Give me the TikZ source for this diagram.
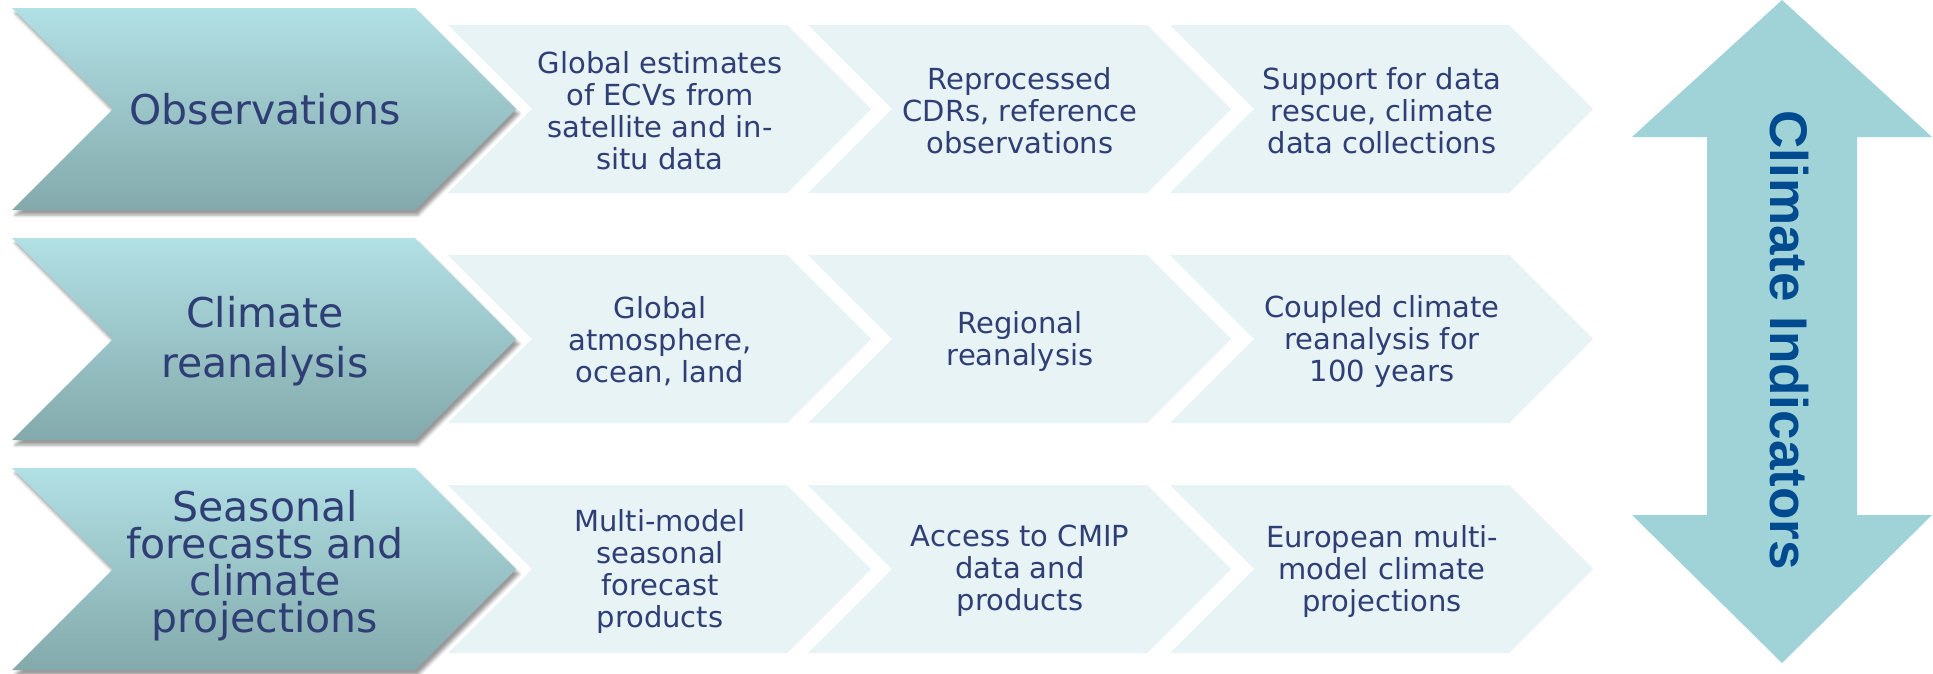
\documentclass[tikz,border=0pt]{standalone}
\usepackage{fontspec}
\setmainfont{DejaVu Sans}
\newfontfamily\arrowfont{Liberation Sans}
\usepackage{xcolor}
\usepackage{tikz}
\usetikzlibrary{shadows.blur}
\definecolor{figink}{RGB}{47,62,117}
\definecolor{figtealtop}{RGB}{177,224,229}
\definecolor{figtealbot}{RGB}{131,169,171}
\definecolor{figpale}{RGB}{231,243,244}
\definecolor{figarrow}{RGB}{160,211,216}
\definecolor{figindigo}{RGB}{0,74,143}
\tikzset{
    bigchev/.style={top color=figtealtop, bottom color=figtealbot,
        blur shadow={shadow xshift=3pt, shadow yshift=-5pt,
            shadow blur radius=3pt, shadow opacity=40}},
    smallchev/.style={fill=figpale},
    bigtext/.style={text=figink, align=center, inner sep=0pt},
    smalltext/.style={text=figink, align=center, inner sep=0pt,
        font=\fontsize{29}{32}\selectfont},
}
% chevron: style, left x, centre y, body width, half height
\newcommand{\chevron}[5]{%
    \path[#1] (#2,#3-#5) -- ++(#4,0) -- ++(#5,#5) -- ++(-#5,#5)
        -- ++(-#4,0) -- ++(#5,-#5) -- cycle;}

\begin{document}
\begin{tikzpicture}[x=1pt, y=-1pt]
            \useasboundingbox (0,0) rectangle (1933,673);

            % observations row
            \chevron{bigchev}{12}{109}{403}{101}
            \chevron{smallchev}{448}{109}{339}{84}
            \chevron{smallchev}{808}{109}{339}{84}
            \chevron{smallchev}{1170}{109}{339}{84}
            \node[bigtext, font=\fontsize{41}{50}\selectfont] (obs) at (265,109) {Observations};
            \node[smalltext] (obs1) at (660,111) {Global estimates\\of ECVs from\\satellite and in-\\situ data};
            \node[smalltext] (obs2) at (1020,111) {Reprocessed\\CDRs, reference\\observations};
            \node[smalltext] (obs3) at (1382,111) {Support for data\\rescue, climate\\data collections};

            % reanalysis row
            \chevron{bigchev}{12}{339}{403}{101}
            \chevron{smallchev}{448}{339}{339}{84}
            \chevron{smallchev}{808}{339}{339}{84}
            \chevron{smallchev}{1170}{339}{339}{84}
            \node[bigtext, font=\fontsize{41}{50}\selectfont] (rea) at (265,341) {Climate\\reanalysis};
            \node[smalltext] (rea1) at (660,341) {Global\\atmosphere,\\ocean, land};
            \node[smalltext] (rea2) at (1020,341) {Regional\\reanalysis};
            \node[smalltext] (rea3) at (1382,341) {Coupled climate\\reanalysis for\\100 years};

            % projections row
            \chevron{bigchev}{12}{569}{403}{101}
            \chevron{smallchev}{448}{569}{339}{84}
            \chevron{smallchev}{808}{569}{339}{84}
            \chevron{smallchev}{1170}{569}{339}{84}
            \node[bigtext, font=\fontsize{41}{37}\selectfont] (sea) at (265,566) {Seasonal\\forecasts and\\climate\\projections};
            \node[smalltext] (sea1) at (660,571) {Multi-model\\seasonal\\forecast\\products};
            \node[smalltext] (sea2) at (1020,571) {Access to CMIP\\data and\\products};
            \node[smalltext] (sea3) at (1382,571) {European multi-\\model climate\\projections};

            % indicators double arrow
            \fill[figarrow] (1782,0) -- (1932,137) -- (1857,137) -- (1857,515)
                -- (1932,515) -- (1782,663) -- (1632,515) -- (1707,515)
                -- (1707,137) -- (1632,137) -- cycle;
            \node[rotate=-90, anchor=base, inner sep=0pt, text=figindigo,
                font=\arrowfont\bfseries\fontsize{53}{60}\selectfont]
                (ind) at (1770,340) {Climate Indicators};
        \end{tikzpicture}
\end{document}
